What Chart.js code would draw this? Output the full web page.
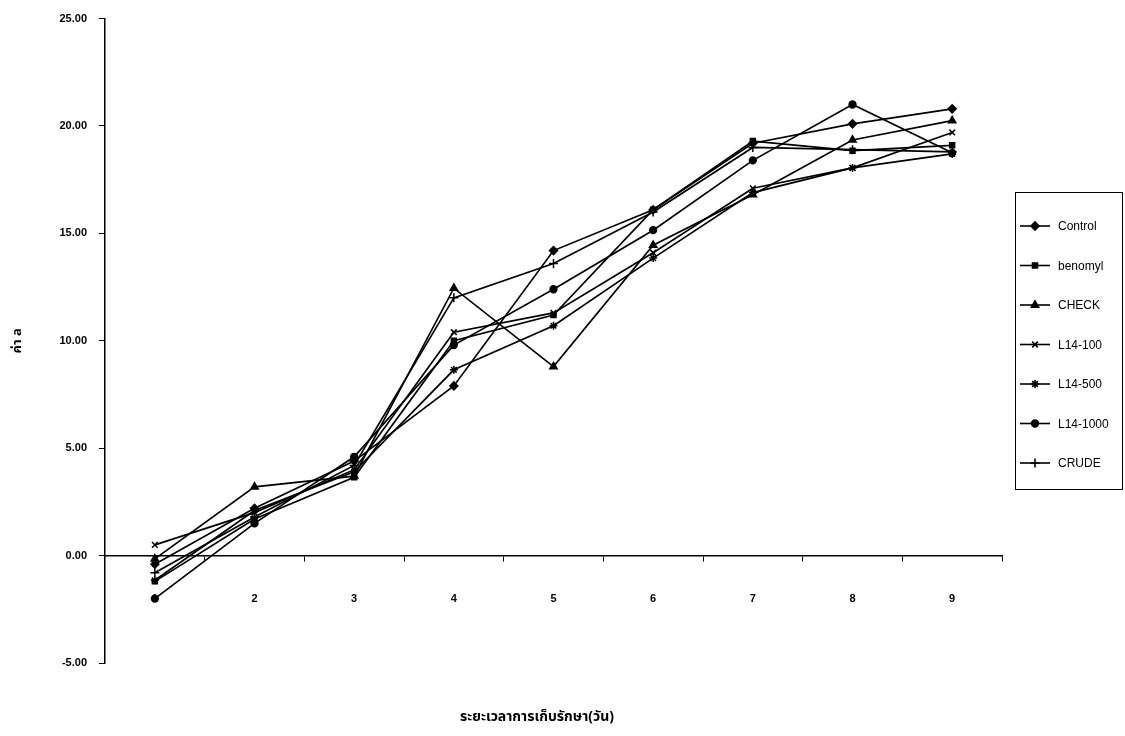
<!DOCTYPE html>
<html>
<head>
<meta charset="utf-8">
<script src="https://cdn.jsdelivr.net/npm/chart.js@4/dist/chart.umd.min.js"></script>
<style>
  html, body { margin: 0; padding: 0; background: #ffffff; }
  #wrap { width: 1125px; height: 736px; position: relative; }
</style>
</head>
<body>
<div id="wrap"><canvas id="c" width="1125" height="736"></canvas></div>
<script>
// Storage time (days)
const days = ['1', '2', '3', '4', '5', '6', '7', '8', '9'];

// a* value per treatment
const control  = [-0.40, 2.20, 4.40,  7.90, 14.20, 16.10, 19.20, 20.10, 20.80];
const benomyl  = [-1.20, 1.70, 3.65, 10.00, 11.20, 16.10, 19.30, 18.85, 19.10];
const check    = [-0.15, 3.20, 3.70, 12.45,  8.80, 14.45, 16.80, 19.35, 20.25];
const l14_100  = [ 0.50, 2.00, 4.00, 10.40, 11.30, 14.10, 17.10, 18.05, 19.70];
const l14_500  = [-1.15, 2.10, 3.90,  8.65, 10.70, 13.85, 16.90, 18.05, 18.70];
const l14_1000 = [-2.00, 1.50, 4.60,  9.80, 12.40, 15.15, 18.40, 21.00, 18.75];
const crude    = [-0.80, 1.80, 4.20, 12.00, 13.60, 16.00, 19.00, 18.90, 18.80];

const seriesNames = ['Control', 'benomyl', 'CHECK', 'L14-100', 'L14-500', 'L14-1000', 'CRUDE'];
const seriesValues = [control, benomyl, check, l14_100, l14_500, l14_1000, crude];
const markerStyles = ['rectRot', 'rect', 'triangle', 'crossRot', 'star', 'circle', 'cross'];

// Y axis range and step
const yMin = -5, yMax = 25, yStep = 5;

const markerRadius = { rectRot: 4, rect: 3.5, triangle: 4.2, crossRot: 4, star: 4, circle: 3.4, cross: 4.5 };

const datasets = seriesNames.map((name, i) => ({
  label: name,
  data: seriesValues[i],
  borderColor: '#000000',
  backgroundColor: '#000000',
  borderWidth: 1.7,
  pointStyle: markerStyles[i],
  pointRadius: markerRadius[markerStyles[i]],
  pointBorderWidth: 1.5,
  pointBackgroundColor: '#000000',
  pointBorderColor: '#000000',
  tension: 0,
  fill: false
}));

// Boxed legend on the right, one line sample with its marker per series
const boxLegend = {
  id: 'boxLegend',
  afterDraw(chart, args, opts) {
    const ctx = chart.ctx;
    ctx.save();
    ctx.strokeStyle = '#000';
    ctx.lineWidth = 1;
    ctx.strokeRect(opts.left + 0.5, opts.top + 0.5, opts.width, opts.height);
    ctx.font = opts.font;
    ctx.textBaseline = 'middle';
    ctx.textAlign = 'left';
    chart.data.datasets.forEach((ds, i) => {
      const y = opts.firstRow + i * opts.rowGap;
      ctx.strokeStyle = '#000';
      ctx.lineWidth = 1.6;
      ctx.beginPath();
      ctx.moveTo(opts.left + 5, y);
      ctx.lineTo(opts.left + 35, y);
      ctx.stroke();
      ctx.fillStyle = '#000';
      Chart.helpers.drawPoint(ctx, {
        pointStyle: ds.pointStyle,
        radius: ds.pointRadius,
        rotation: 0,
        borderWidth: 1.5
      }, opts.left + 20, y);
      ctx.fillStyle = '#000';
      ctx.fillText(ds.label, opts.left + 43, y + 1);
    });
    ctx.restore();
  }
};

// Horizontal axis caption under the plot
const xCaption = {
  id: 'xCaption',
  afterDraw(chart, args, opts) {
    const ctx = chart.ctx;
    ctx.save();
    ctx.font = opts.font;
    ctx.fillStyle = '#000';
    ctx.textAlign = 'center';
    ctx.textBaseline = 'middle';
    ctx.fillText(opts.text, opts.x, opts.y);
    ctx.restore();
  }
};

const tickFont = { family: 'Liberation Sans, Arial, sans-serif', size: 11, weight: 'bold' };

new Chart(document.getElementById('c'), {
  type: 'line',
  data: { labels: days, datasets: datasets },
  plugins: [boxLegend, xCaption],
  options: {
    responsive: false,
    animation: false,
    devicePixelRatio: 1,
    layout: { padding: { left: 8, top: 15, right: 123, bottom: 73 } },
    plugins: {
      legend: { display: false },
      tooltip: { enabled: false },
      boxLegend: {
        left: 1015, top: 192, width: 107, height: 297,
        firstRow: 226, rowGap: 39.5,
        font: '12px "Liberation Sans", Arial, sans-serif'
      },
      xCaption: {
        text: 'ระยะเวลาการเก็บรักษา(วัน)',
        x: 537, y: 718,
        font: 'bold 14px "Noto Sans Thai", "Noto Sans", "DejaVu Sans", sans-serif'
      }
    },
    scales: {
      x: {
        type: 'category',
        position: { y: 0 },
        offset: true,
        grid: {
          offset: true,
          drawOnChartArea: false,
          drawTicks: true,
          tickLength: 5,
          color: '#000'
        },
        border: { display: true, color: '#000', width: 1.5 },
        ticks: { color: '#000', font: tickFont, padding: 32, maxRotation: 0, autoSkip: false }
      },
      y: {
        min: yMin,
        max: yMax,
        position: 'left',
        afterFit(scale) { scale.width = 97; },
        grid: {
          drawOnChartArea: false,
          drawTicks: true,
          tickLength: 6,
          color: '#000'
        },
        border: { display: true, color: '#000', width: 1.5 },
        ticks: {
          stepSize: yStep,
          color: '#000',
          font: tickFont,
          padding: 12,
          callback: (v) => Number(v).toFixed(2)
        },
        title: {
          display: true,
          text: 'ค่า a',
          color: '#000',
          font: { family: '"Noto Sans Thai", "Noto Sans", "DejaVu Sans", sans-serif', size: 13, weight: 'bold' },
          padding: { top: 3, bottom: 0 }
        }
      }
    }
  }
});
</script>
</body>
</html>
